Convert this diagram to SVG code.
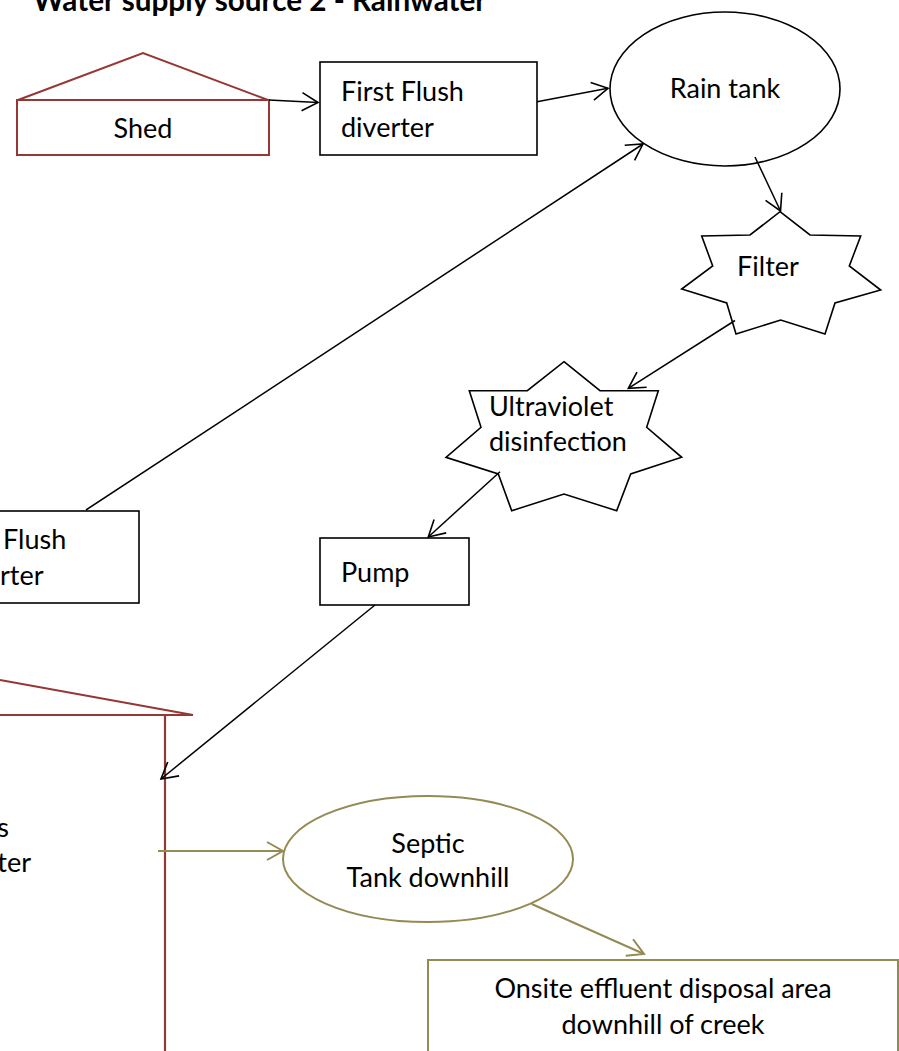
<svg xmlns="http://www.w3.org/2000/svg" width="899" height="1051" viewBox="0 0 899 1051">
<style>
text{font-family:Lato,"Liberation Sans",sans-serif;font-size:27px;fill:#000}
.title{font-weight:bold;font-size:29.7px}
.blk{fill:#fff;stroke:#000;stroke-width:1.6}
.red{fill:#fff;stroke:#953735;stroke-width:2}
.redl{fill:none;stroke:#953735;stroke-width:2.2}
.olv{fill:#fff;stroke:#948A54;stroke-width:2}
.c{stroke:#000;stroke-width:1.5;fill:none;marker-end:url(#ah)}
.co{stroke:#948A54;stroke-width:2;fill:none;marker-end:url(#aho)}
.m{text-anchor:middle}
</style>
<defs>
<marker id="ah" markerUnits="userSpaceOnUse" markerWidth="20" markerHeight="20" viewBox="0 0 20 20" refX="18" refY="10" orient="auto">
<path d="M2,1 L18,10 L2,19" fill="none" stroke="#000" stroke-width="1.6"/>
</marker>
<marker id="aho" markerUnits="userSpaceOnUse" markerWidth="20" markerHeight="20" viewBox="0 0 20 20" refX="18" refY="10" orient="auto">
<path d="M2,1 L18,10 L2,19" fill="none" stroke="#948A54" stroke-width="2"/>
</marker>
</defs>
<rect width="899" height="1051" fill="#fff"/>
<text class="title" x="33" y="11">Water supply source 2 - Rainwater</text>

<g id="shed">
<path class="red" d="M18,100 L143,53 L268,100 Z"/>
<rect class="red" x="17" y="100" width="252" height="55"/>
<text class="m" x="143" y="138">Shed</text>
</g>

<g id="ffd1">
<rect class="blk" x="320" y="62" width="217" height="93"/>
<text x="341" y="101">First Flush</text>
<text x="341" y="137">diverter</text>
</g>

<g id="raintank">
<ellipse class="blk" cx="725" cy="89" rx="115" ry="77"/>
<text class="m" x="725" y="98">Rain tank</text>
</g>

<g id="filter">
<polygon class="blk" points="780,211.7 810,235 860.7,236 849.3,266 880.7,290 835,303 825,334 780.7,320 736,334 726.7,303 681.7,289 712.7,266 701.7,236 750,235"/>
<text class="m" x="768" y="276">Filter</text>
</g>

<g id="uv">
<polygon class="blk" points="564,361.7 600,390.7 658.3,390.7 646.7,427.3 681.7,457.3 630.7,474 616.7,510.7 564,494 511.7,510.7 498.3,474 446,457.3 481,427.3 469.3,390.7 527.3,390.7"/>
<text x="489" y="416">Ultraviolet</text>
<text x="489" y="451">disinfection</text>
</g>

<g id="ffd2">
<rect class="blk" x="-78" y="511" width="217" height="92"/>
<text x="3" y="549">Flush</text>
<text x="0" y="585">rter</text>
</g>

<g id="pump">
<rect class="blk" x="320" y="538" width="149" height="67"/>
<text x="341" y="582">Pump</text>
</g>

<g id="house">
<path class="redl" d="M0,680 L193,715 M0,715 L193,715 M165,715 L165,1051"/>
<text x="9" y="837" text-anchor="end">s</text>
<text x="31" y="872" text-anchor="end">ter</text>
</g>

<g id="septic">
<ellipse class="olv" cx="428" cy="859" rx="145" ry="63"/>
<text class="m" x="428" y="853">Septic</text>
<text class="m" x="428" y="887">Tank downhill</text>
</g>

<g id="onsite">
<rect class="olv" x="428" y="960" width="470" height="100"/>
<text class="m" x="663" y="998">Onsite effluent disposal area</text>
<text class="m" x="663" y="1034">downhill of creek</text>
</g>

<g id="connectors">
<line class="c" x1="269" y1="100" x2="318" y2="102.5"/>
<line class="c" x1="537" y1="101.7" x2="608" y2="88.3"/>
<line class="c" x1="86" y1="510" x2="643" y2="144"/>
<line class="c" x1="755" y1="157" x2="780.5" y2="211"/>
<line class="c" x1="735" y1="320.5" x2="628.3" y2="388.3"/>
<line class="c" x1="500" y1="471.7" x2="428.3" y2="537"/>
<line class="c" x1="375" y1="605" x2="161" y2="779"/>
<line class="co" x1="158" y1="851" x2="283" y2="851"/>
<line class="co" x1="531.7" y1="904" x2="644" y2="954"/>
</g>
</svg>
